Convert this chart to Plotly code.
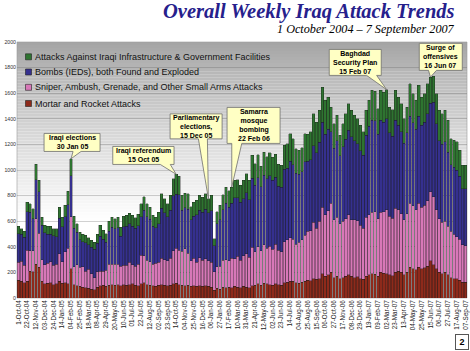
import plotly.graph_objects as go

# ---------------- data ----------------
week_index = list(range(154))  # weekly bars, 1 Oct 2004 .. 7 Sep 2007

tick_labels = ["1-Oct-04", "22-Oct-04", "12-Nov-04", "03-Dec-04", "24-Dec-04", "14-Jan-05",
               "04-Feb-05", "25-Feb-05", "18-Mar-05", "08-Apr-05", "29-Apr-05", "20-May-05",
               "10-Jun-05", "01-Jul-05", "22-Jul-05", "12-Aug-05", "02-Sep-05", "23-Sep-05",
               "14-Oct-05", "04-Nov-05", "25-Nov-05", "16-Dec-05", "06-Jan-06", "27-Jan-06",
               "17-Feb-06", "10-Mar-06", "31-Mar-06", "21-Apr-06", "12-May-06", "02-Jun-06",
               "23-Jun-06", "14-Jul-06", "04-Aug-06", "25-Aug-06", "15-Sep-06", "06-Oct-06",
               "27-Oct-06", "17-Nov-06", "08-Dec-06", "29-Dec-06", "19-Jan-07", "09-Feb-07",
               "02-Mar-07", "23-Mar-07", "13-Apr-07", "04-May-07", "25-May-07", "15-Jun-07",
               "06-Jul-07", "27-Jul-07", "17-Aug-07", "07-Sep-07"]
tick_step = 3

mortar = [137, 132, 120, 130, 210, 205, 265, 240, 130, 110,
          115, 120, 105, 110, 130, 115, 120, 110, 230, 105,
          95, 90, 85, 80, 75, 70, 65, 85, 95, 100,
          90, 100, 105, 100, 105, 95, 105, 100, 105, 110,
          100, 95, 110, 120, 105, 100, 95, 90, 100, 105,
          100, 95, 100, 110, 115, 105, 100, 95, 100, 90,
          95, 90, 95, 90, 95, 90, 85, 60, 75, 70,
          85, 80, 85, 80, 90, 85, 80, 90, 85, 80,
          95, 100, 110, 100, 115, 110, 105, 100, 110, 105,
          100, 120, 125, 130, 130, 120, 115, 125, 130, 140,
          135, 150, 145, 150, 190, 170, 180, 200, 160, 170,
          150, 160, 170, 180, 170, 160, 165, 150, 145, 170,
          180, 190, 185, 170, 200, 195, 190, 180, 175, 200,
          210, 200, 180, 200, 240, 230, 220, 240, 230, 235,
          250, 290, 260, 230, 200, 190, 200, 180, 160, 150,
          150, 140, 125, 125]

sniper = [144, 157, 135, 245, 160, 165, 355, 265, 170, 150,
          155, 165, 150, 155, 215, 170, 240, 280, 405, 140,
          165, 150, 160, 130, 150, 120, 95, 120, 115, 110,
          125, 165, 160, 165, 160, 155, 150, 155, 175, 150,
          150, 170, 225, 210, 190, 185, 170, 180, 180, 205,
          200, 195, 210, 260, 275, 270, 265, 290, 250, 200,
          215, 190, 220, 205, 210, 200, 195, 145, 170, 180,
          210, 220, 205, 230, 215, 240, 215, 240, 260, 240,
          300, 260, 290, 270, 300, 280, 300, 280, 310, 270,
          260, 320, 330, 340, 330, 300, 320, 330, 360, 380,
          390, 440, 400, 450, 520, 480, 500, 540, 450, 460,
          430, 440, 450, 470, 440, 450, 440, 420, 400, 460,
          470, 480, 490, 450, 470, 480, 500, 460, 450, 500,
          480, 460, 430, 460, 500, 490, 470, 500, 480, 490,
          510, 540, 530, 460, 420, 400, 400, 380, 360, 350,
          330, 320, 290, 285]

bombs = [221, 208, 221, 300, 300, 250, 304, 324, 270, 250,
         230, 215, 230, 215, 280, 270, 275, 340, 320, 300,
         255, 215, 195, 220, 190, 205, 222, 222, 272, 248,
         222, 256, 287, 275, 285, 234, 300, 305, 300, 300,
         295, 300, 300, 355, 340, 330, 295, 280, 300, 390,
         365, 345, 375, 430, 420, 430, 320, 320, 345, 320,
         330, 370, 370, 375, 390, 376, 400, 205, 337, 360,
         395, 440, 420, 430, 480, 460, 455, 444, 476, 449,
         540, 520, 540, 500, 545, 540, 550, 540, 525, 500,
         506, 565, 560, 600, 580, 556, 530, 530, 574, 550,
         555, 600, 589, 615, 665, 630, 640, 560, 560, 600,
         530, 580, 620, 660, 650, 620, 600, 580, 570, 640,
         690, 720, 710, 660, 720, 700, 710, 650, 640, 690,
         660, 640, 600, 630, 680, 650, 630, 680, 640, 650,
         680, 690, 740, 670, 610, 610, 620, 580, 520, 520,
         520, 490, 440, 445]

infrastructure = [57, 44, 47, 74, 66, 77, 120, 90, 62, 57,
                  59, 59, 56, 61, 85, 75, 88, 103, 133, 92,
                  65, 60, 60, 59, 56, 55, 55, 70, 85, 70,
                  65, 80, 80, 79, 82, 70, 82, 85, 83, 85,
                  82, 88, 101, 108, 101, 95, 85, 82, 91, 115,
                  110, 102, 117, 132, 156, 145, 117, 115, 120, 101,
                  110, 113, 117, 119, 120, 110, 122, 53, 90, 114,
                  117, 127, 126, 127, 134, 139, 130, 145, 150, 150,
                  179, 170, 180, 160, 180, 175, 180, 180, 180, 169,
                  170, 187, 190, 215, 205, 190, 188, 190, 220, 210,
                  220, 250, 240, 250, 273, 264, 250, 192, 192, 197,
                  161, 182, 200, 208, 206, 197, 196, 199, 182, 196,
                  204, 232, 232, 199, 232, 234, 228, 202, 206, 232,
                  220, 218, 191, 202, 254, 226, 224, 241, 220, 221,
                  234, 206, 201, 236, 236, 240, 246, 248, 205, 212,
                  219, 204, 182, 182]

series_names = ["Mortar and Rocket Attacks",
                "Sniper, Ambush, Grenade, and Other Small Arms Attacks",
                "Bombs (IEDs), both Found and Exploded",
                "Attacks Against Iraqi Infrastructure & Government Facilities"]

events = [("Iraqi elections<br>30 Jan 05", 18),
          ("Iraqi referendum<br>15 Oct 05", 54),
          ("Parliamentary<br>elections,<br>15 Dec 05", 65),
          ("Samarra<br>mosque<br>bombing<br>22 Feb 06", 73),
          ("Baghdad<br>Security Plan<br>15 Feb 07", 126),
          ("Surge of<br>offensives<br>16 Jun 07", 141)]

y_ticks = list(range(0, 2001, 200))

title_text = "Overall Weekly Iraq Attack Trends"
subtitle_text = "1 October 2004 \u2013 7 September 2007"
page_number = "2"

# ---------------- styling ----------------
W, H = 470, 351
ML, MR, MT, MB = 17, 3, 42, 53
PW, PH = W - ML - MR, H - MT - MB
colors = ["#8e2a1b", "#d878b8", "#35308f", "#2e7430"]
FONT = "Liberation Sans, Arial, sans-serif"


def px_to_paper_x(px):
    return (px - ML) / PW


def px_to_paper_y(py):
    return (H - MB - py) / PH


fig = go.Figure()
series = [mortar, sniper, bombs, infrastructure]
for vals, name, col in zip(series, series_names, colors):
    fig.add_trace(go.Bar(x=week_index, y=vals, name=name,
                         marker=dict(color=col, line=dict(color="#1e1e1e", width=0.35)),
                         showlegend=False))

totals = [a + b + c + d for a, b, c, d in zip(mortar, sniper, bombs, infrastructure)]

shapes = []
# gradient plot background (grey at top fading to white)
n_strips = 60
g_top, g_bot = 0.0, 0.70  # fraction of plot height from top
for k in range(n_strips):
    t0 = g_top + (g_bot - g_top) * k / n_strips
    t1 = g_top + (g_bot - g_top) * (k + 1) / n_strips
    tm = (k + 0.5) / n_strips
    v = int(round(163 + (255 - 163) * tm ** 0.85))
    shapes.append(dict(type="rect", xref="paper", yref="paper", x0=0, x1=1,
                       y0=1 - t1, y1=1 - t0, line=dict(width=0),
                       fillcolor=f"rgb({v},{v},{v})", layer="below"))
shapes.append(dict(type="rect", xref="paper", yref="paper", x0=0, x1=1, y0=0, y1=1,
                   line=dict(color="#9a9a9a", width=0.6), fillcolor="rgba(0,0,0,0)",
                   layer="below"))

# callout geometry (pixels relative to the bar top; y up)
callout_geom = [(-27.0, 29.0, 25.3, 7.3, 2, 10),
                (-63.5, -2.2, 27.9, 9.9, -16, -6),
                (-38.3, 13.7, 84.8, 59.8, -10, -1),
                (-4.7, 48.3, 79.6, 43.6, 0, 10),
                (-57.4, -5.4, 40.2, 14.2, -20, -10),
                (-11.2, 31.8, 33.7, 6.7, -2, 6)]

annotations = []
for (label, idx), (x0, x1, yt, yb, bx0, bx1) in zip(events, callout_geom):
    path = (f"M {x0},{yt} L {x1},{yt} L {x1},{yb} L {bx1},{yb} L 0,0 "
            f"L {bx0},{yb} L {x0},{yb} Z")
    shapes.append(dict(type="path", xref="x", yref="y", xsizemode="pixel",
                       ysizemode="pixel", xanchor=week_index[idx], yanchor=totals[idx],
                       path=path, fillcolor="#ffffc4",
                       line=dict(color="#6e6e6e", width=0.8), layer="above"))
    annotations.append(dict(x=week_index[idx], y=totals[idx], xref="x", yref="y",
                            xshift=(x0 + x1) / 2, yshift=(yt + yb) / 2,
                            text=label, showarrow=False,
                            font=dict(family=FONT, size=7, color="#000", weight="bold"),
                            xanchor="center", yanchor="middle", align="center"))

# custom legend (top-left inside plot)
legend_rows = [56.8, 72.0, 87.3, 103.5]
legend_order = [3, 2, 1, 0]
for row_y, si in zip(legend_rows, legend_order):
    shapes.append(dict(type="rect", xref="paper", yref="paper", xsizemode="pixel",
                       ysizemode="pixel", xanchor=px_to_paper_x(25.5),
                       yanchor=px_to_paper_y(row_y), x0=0, x1=6, y0=-3, y1=3,
                       fillcolor=colors[si], line=dict(color="#222", width=0.6),
                       layer="above"))
    annotations.append(dict(x=px_to_paper_x(33), y=px_to_paper_y(row_y),
                            xref="paper", yref="paper", text=series_names[si],
                            showarrow=False, xanchor="left", yanchor="middle",
                            font=dict(family=FONT, size=9, color="#111")))

# title and subtitle
annotations.append(dict(x=px_to_paper_x(457), y=px_to_paper_y(11.5), xref="paper",
                        yref="paper", text=title_text, showarrow=False,
                        xanchor="right", yanchor="middle",
                        font=dict(family="Liberation Serif, Times New Roman, serif",
                                  size=20.5, color="#26208c", weight="bold",
                                  style="italic")))
annotations.append(dict(x=px_to_paper_x(457), y=px_to_paper_y(29), xref="paper",
                        yref="paper", text=subtitle_text, showarrow=False,
                        xanchor="right", yanchor="middle",
                        font=dict(family="Liberation Serif, Times New Roman, serif",
                                  size=12.2, color="#000", style="italic")))
# page number box
annotations.append(dict(x=px_to_paper_x(461.5), y=px_to_paper_y(342), xref="paper",
                        yref="paper", text=page_number, showarrow=False,
                        xanchor="center", yanchor="middle", width=10, height=12,
                        bordercolor="#555", borderwidth=1, bgcolor="#fff",
                        font=dict(family=FONT, size=9, color="#000", weight="bold")))

fig.update_layout(
    width=W, height=H,
    margin=dict(l=ML, r=MR, t=MT, b=MB, pad=0),
    barmode="stack", bargap=0.1,
    paper_bgcolor="#ffffff", plot_bgcolor="#ffffff",
    showlegend=False,
    shapes=shapes, annotations=annotations,
    xaxis=dict(range=[-0.5, 153.5], tickmode="array",
               tickvals=week_index[::tick_step], ticktext=tick_labels,
               tickangle=-90, tickfont=dict(family=FONT, size=6.3, color="#222"),
               showgrid=False, zeroline=False, showline=False, ticks="",
               automargin=False, fixedrange=True),
    yaxis=dict(range=[0, 2000], tickmode="array", tickvals=y_ticks,
               tickfont=dict(family=FONT, size=5.2, color="#333"),
               showgrid=True, gridcolor="rgba(90,90,90,0.28)", gridwidth=0.6,
               zeroline=False, showline=False, ticks="", automargin=False,
               fixedrange=True),
)

fig.write_html("out.html")
